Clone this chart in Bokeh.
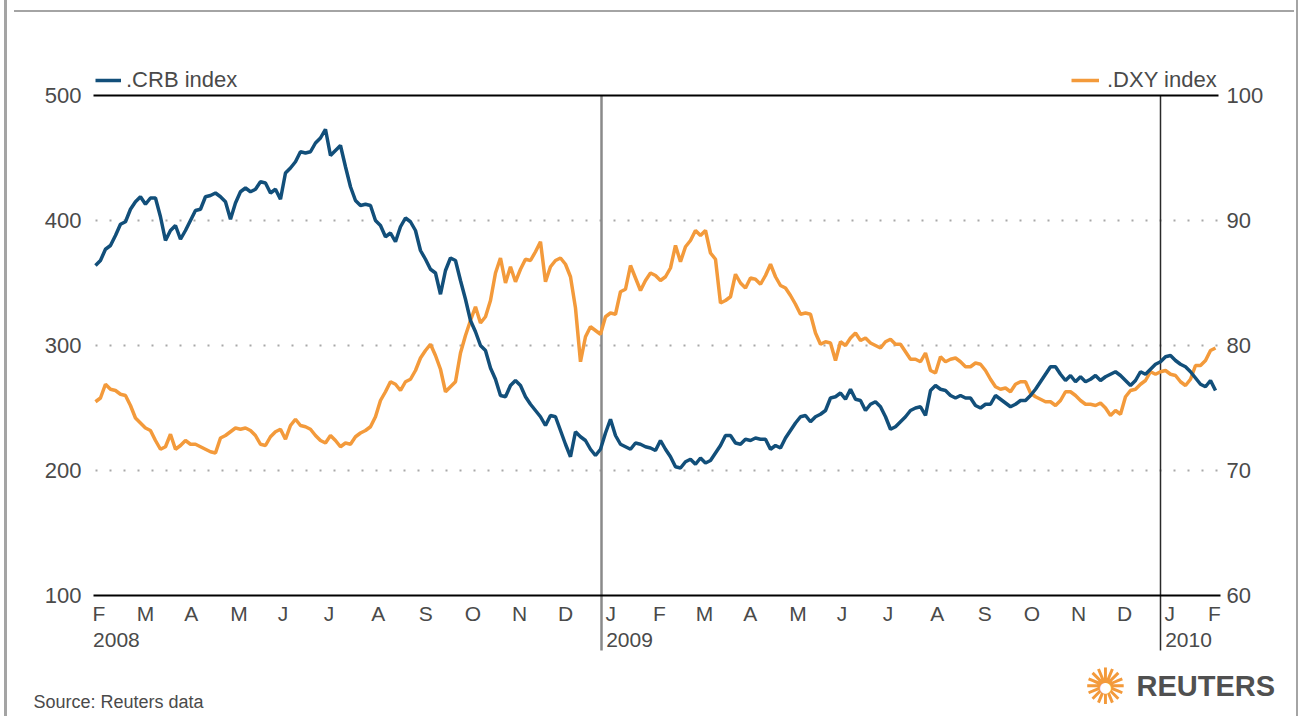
import pandas as pd
from bokeh.plotting import figure
from bokeh.models import (Range1d, LinearAxis, DatetimeAxis, FixedTicker, Legend, LegendItem, Label)
from bokeh.embed import file_html
from bokeh.resources import INLINE

# ---------------- data ----------------
crb_index = [
    364, 368, 377, 380, 388, 397, 399, 409, 415, 419,
    413, 418, 418, 403, 384, 392, 396, 385, 392, 400,
    408, 409, 419, 420, 422, 419, 415, 401, 414, 423,
    426, 423, 425, 431, 430, 422, 425, 417, 438, 442,
    447, 455, 454, 455, 462, 466, 473, 452, 456, 460,
    443, 427, 416, 412, 413, 412, 400, 396, 387, 390,
    383, 395, 402, 399, 392, 376, 369, 361, 358, 341,
    360, 370, 368, 352, 337, 320, 311, 300, 296, 282,
    273, 260, 259, 268, 272, 268, 259, 253, 248, 243,
    236, 244, 243, 232, 221, 211, 231, 227, 224, 217,
    212, 217, 230, 241, 228, 221, 219, 217, 222, 221,
    219, 218, 216, 224, 217, 211, 203, 202, 207, 209,
    205, 210, 206, 208, 214, 220, 228, 228, 222, 221,
    225, 224, 226, 225, 225, 217, 220, 218, 226, 232,
    238, 243, 244, 239, 243, 245, 248, 258, 259, 262,
    257, 265, 257, 256, 248, 253, 255, 251, 243, 233,
    235, 239, 243, 248, 250, 251, 244, 264, 268, 265,
    264, 260, 258, 260, 258, 258, 252, 250, 253, 253,
    260, 257, 254, 251, 253, 256, 256, 260, 265, 271,
    277, 283, 283, 277, 272, 276, 271, 275, 271, 273,
    276, 272, 275, 277, 279, 276, 272, 268, 272, 279,
    277, 281, 285, 287, 291, 292, 288, 285, 283, 279,
    274, 269, 267, 272, 264,
]
dxy_index = [
    75.5, 75.8, 76.9, 76.5, 76.4, 76.1, 76.0, 75.2, 74.2, 73.8,
    73.4, 73.2, 72.4, 71.7, 71.9, 72.9, 71.7, 72.0, 72.4, 72.1,
    72.1, 71.9, 71.7, 71.5, 71.4, 72.6, 72.8, 73.1, 73.4, 73.3,
    73.4, 73.2, 72.8, 72.1, 72.0, 72.7, 73.1, 73.3, 72.5, 73.6,
    74.1, 73.6, 73.5, 73.3, 72.8, 72.4, 72.2, 72.8, 72.4, 71.9,
    72.2, 72.1, 72.7, 73.0, 73.2, 73.5, 74.3, 75.6, 76.3, 77.1,
    76.9, 76.4, 77.1, 77.3, 78.0, 79.0, 79.6, 80.1, 79.2, 78.1,
    76.3, 76.7, 77.1, 79.4, 80.8, 82.0, 83.1, 81.8, 82.3, 83.6,
    85.8, 87.0, 85.0, 86.3, 85.1, 86.1, 86.9, 86.8, 87.5, 88.3,
    85.1, 86.3, 86.8, 87.0, 86.5, 85.5, 83.0, 78.7, 80.7, 81.5,
    81.2, 80.9, 82.3, 82.6, 82.5, 84.3, 84.5, 86.4, 85.4, 84.4,
    85.2, 85.8, 85.6, 85.2, 85.5, 86.2, 88.0, 86.7, 87.9, 88.4,
    89.2, 88.8, 89.2, 87.4, 86.9, 83.4, 83.6, 83.9, 85.7, 85.0,
    84.6, 85.4, 85.3, 84.9, 85.6, 86.5, 85.5, 84.8, 84.6, 84.0,
    83.3, 82.5, 82.6, 82.5, 81.0, 80.1, 80.3, 80.2, 78.8, 80.3,
    80.0, 80.6, 81.0, 80.4, 80.6, 80.2, 80.0, 79.8, 80.3, 80.5,
    80.1, 80.1, 79.5, 78.9, 78.9, 78.7, 79.4, 78.0, 77.8, 79.1,
    78.7, 78.9, 79.0, 78.7, 78.3, 78.3, 78.6, 78.5, 78.0, 77.3,
    76.7, 76.5, 76.6, 76.3, 76.9, 77.1, 77.1, 76.2, 75.9, 75.7,
    75.5, 75.5, 75.2, 75.6, 76.3, 76.3, 76.0, 75.6, 75.3, 75.3,
    75.2, 75.4, 75.0, 74.4, 74.8, 74.5, 75.9, 76.4, 76.5, 76.9,
    77.2, 77.9, 77.7, 77.9, 78.0, 77.7, 77.6, 77.1, 76.8, 77.3,
    78.4, 78.4, 78.8, 79.6, 79.8,
]
series_start = "2008-02-05 14:00"
series_end = "2010-02-05 22:00"

month_labels = ["F", "M", "A", "M", "J", "J", "A", "S", "O", "N", "D",
                "J", "F", "M", "A", "M", "J", "J", "A", "S", "O", "N", "D",
                "J", "F"]
month_starts = pd.date_range("2008-02-01", "2010-02-01", freq="MS")
year_labels = ["2008", "2009", "2010"]
year_starts = ["2008-02-01", "2009-01-01", "2010-01-01"]
left_ticks = [100, 200, 300, 400, 500]
right_ticks = [60, 70, 80, 90, 100]
grid_levels = [200, 300, 400]
year_marks = ["2009-01-01", "2010-01-01"]

BLUE = "#124f7a"
ORANGE = "#f39a3b"
TXT = "#4a4a4a"
FONT = "Liberation Sans"
W, H = 1302, 716
DAY = 86400000.0
PXD = 1.5315          # pixels per day on the time axis
X0_PX, X0_DATE = 601, "2009-01-01"
TOP_PX, BOT_PX = 95, 595   # pixel rows of 500 / 100 on the left scale
HALF_W = {"F": 6.4, "M": 8.7, "A": 7.0, "J": 5.2, "S": 7.0, "O": 8.2, "N": 7.6, "D": 7.6}


def ms(t):
    return pd.Timestamp(t).value / 1e6


def xpx(px):
    return ms(X0_DATE) + (px - X0_PX) / PXD * DAY


def ypx(py, lo=100.0, hi=500.0):
    return hi - (py - TOP_PX) * (hi - lo) / (BOT_PX - TOP_PX)


crb_dates = pd.date_range(series_start, series_end, periods=len(crb_index))
dxy_dates = pd.date_range(series_start, series_end, periods=len(dxy_index))

p = figure(width=W, height=H,
           x_range=Range1d(xpx(0), xpx(W)),
           y_range=Range1d(ypx(H), ypx(0)),
           x_axis_location=None, y_axis_location=None,
           toolbar_location=None, output_backend="svg", min_border=0,
           outline_line_color=None, background_fill_alpha=0, border_fill_alpha=0)
p.extra_y_ranges = {"dxy": Range1d(ypx(H, 60, 100), ypx(0, 60, 100))}
for g in p.grid:
    g.visible = False
# thin grey frame of the original graphic
p.styles = {
    "background-image": "linear-gradient(#a4a4a4,#a4a4a4), linear-gradient(#a4a4a4,#a4a4a4), "
                        "linear-gradient(#a4a4a4,#a4a4a4)",
    "background-size": "3px 100%, 2px 100%, 1280px 2px",
    "background-position": "4px 0px, 1296px 0px, 14px 10px",
    "background-repeat": "no-repeat",
}

x_left, x_right = xpx(93), xpx(1218)

# dotted grid lines
p.segment(x0=[xpx(95)] * len(grid_levels), y0=grid_levels,
          x1=[x_right] * len(grid_levels), y1=grid_levels,
          line_color="#a8a8a8", line_width=2, line_dash="2 12")

# year separators, running down through the date labels
p.segment(x0=[ms(y) for y in year_marks], y0=[max(left_ticks)] * 2,
          x1=[ms(y) for y in year_marks], y1=[ypx(650)] * 2,
          line_color=["#8a8a8a", "#2a2a2a"], line_width=[2.5, 1.5])

r_dxy = p.line(dxy_dates, dxy_index, y_range_name="dxy", line_color=ORANGE, line_width=3.5)
r_crb = p.line(crb_dates, crb_index, line_color=BLUE, line_width=3.5)

# axes
ax_kw = dict(axis_line_color=None, major_tick_line_color=None, minor_tick_line_color=None,
             major_tick_in=0, major_tick_out=0, major_label_text_font=FONT,
             major_label_text_font_size="22px", major_label_text_color=TXT)
p.add_layout(LinearAxis(ticker=FixedTicker(ticks=left_ticks), fixed_location=x_left,
                        major_label_standoff=12, **ax_kw), "left")
p.add_layout(LinearAxis(y_range_name="dxy", ticker=FixedTicker(ticks=right_ticks),
                        fixed_location=x_right, major_label_standoff=8, **ax_kw), "right")

tick_pos = [ms(m) + (4 + HALF_W[lab]) / PXD * DAY for m, lab in zip(month_starts, month_labels)]
tick_pos[-1] -= 4 / PXD * DAY   # last label sits tight against the plot edge
bottom = DatetimeAxis(ticker=FixedTicker(ticks=tick_pos), fixed_location=min(left_ticks),
                      bounds=(x_left, xpx(1219.5)),
                      major_label_overrides={t: lab for t, lab in zip(tick_pos, month_labels)},
                      axis_line_color="black", axis_line_width=2,
                      major_tick_line_color=None, minor_tick_line_color=None,
                      major_tick_in=0, major_tick_out=0, major_label_standoff=6,
                      major_label_text_font=FONT, major_label_text_font_size="21px",
                      major_label_text_color=TXT)
p.add_layout(bottom, "below")

year_pos = [ms(d) + 28 / PXD * DAY for d in year_starts]
years = DatetimeAxis(ticker=FixedTicker(ticks=year_pos), fixed_location=min(left_ticks),
                     major_label_overrides={t: lab for t, lab in zip(year_pos, year_labels)},
                     axis_line_color=None, major_tick_line_color=None, minor_tick_line_color=None,
                     major_tick_in=0, major_tick_out=0, major_label_standoff=37,
                     major_label_text_font=FONT, major_label_text_font_size="21px",
                     major_label_text_color=TXT)
p.add_layout(years, "below")

top = DatetimeAxis(ticker=FixedTicker(ticks=[]), fixed_location=max(left_ticks),
                   bounds=(x_left, x_right), axis_line_color="black", axis_line_width=2,
                   major_tick_line_color=None, minor_tick_line_color=None,
                   major_tick_in=0, major_tick_out=0, major_label_text_font_size="0px")
p.add_layout(top, "above")

# legends above the plot area
leg_kw = dict(padding=0, margin=0, spacing=0, border_line_color=None, background_fill_alpha=0,
              glyph_height=20, label_text_font=FONT, label_text_font_size="22px",
              label_text_color=TXT)
p.add_layout(Legend(items=[LegendItem(label=".CRB index", renderers=[r_crb])],
                    location=(95, H - 68 - 25), glyph_width=26, label_standoff=5, **leg_kw))
p.add_layout(Legend(items=[LegendItem(label=".DXY index", renderers=[r_dxy])],
                    location=(1071, H - 68 - 25), glyph_width=28, label_standoff=8, **leg_kw))

# footer
p.add_layout(Label(x=33, y=H - 701, x_units="screen", y_units="screen", text="Source: Reuters data",
                   text_font=FONT, text_font_size="18px", text_color=TXT, text_baseline="middle"))
p.add_layout(Label(x=1136, y=H - 685, x_units="screen", y_units="screen", text="REUTERS",
                   text_font=FONT, text_font_size="29px", text_font_style="bold",
                   text_color="#505050", text_baseline="middle"))
p.add_layout(Label(x=1105, y=H - 686, x_units="screen", y_units="screen", text="\u273a",
                   text_font="DejaVu Sans", text_font_size="50px", text_color="#f39a3b",
                   text_align="center", text_baseline="middle"))
p.add_layout(Label(x=1105, y=H - 686, x_units="screen", y_units="screen", text="\u25cf",
                   text_font="DejaVu Sans", text_font_size="14px", text_color="white",
                   text_align="center", text_baseline="middle"))

open("out.html", "w").write(file_html(p, INLINE))
